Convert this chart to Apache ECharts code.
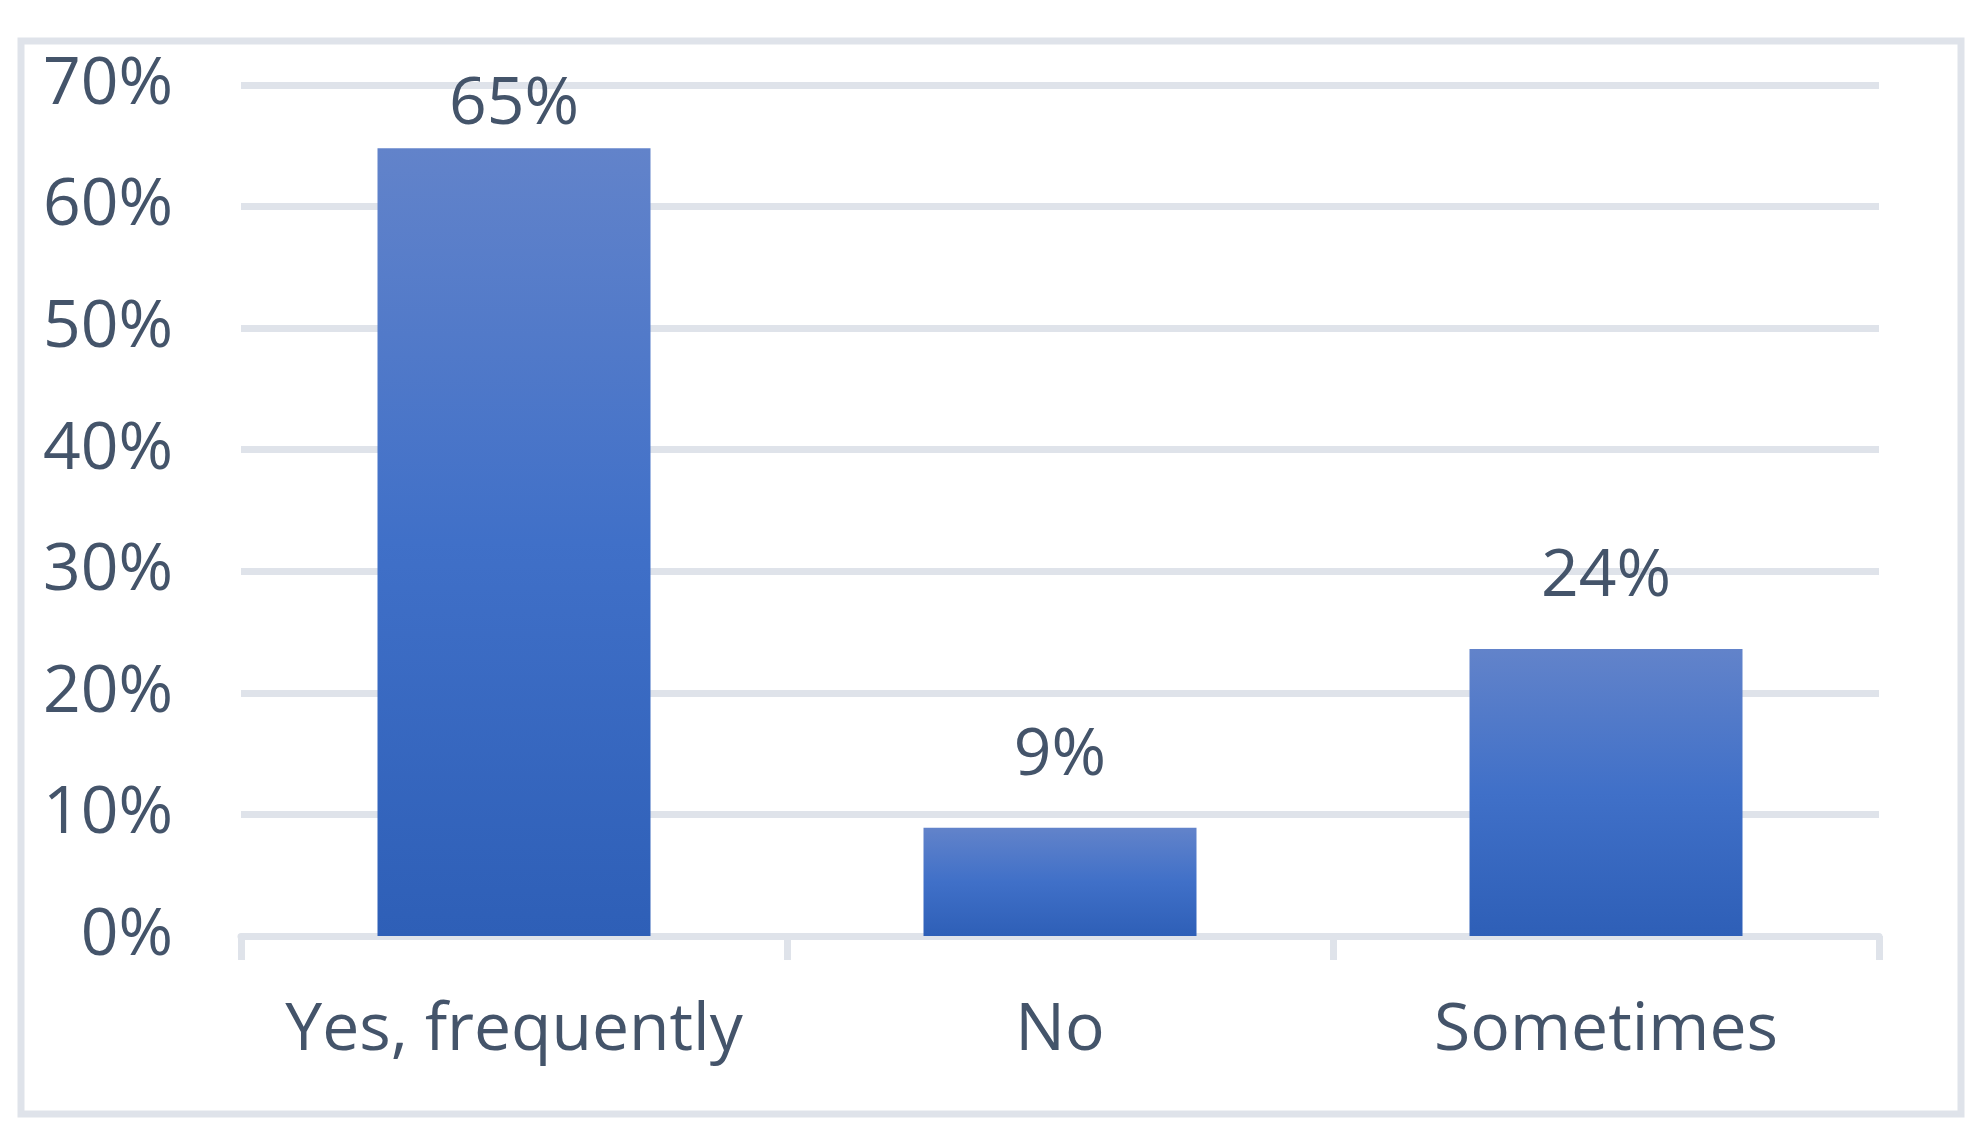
<!DOCTYPE html>
<html>
<head>
<meta charset="utf-8">
<script src="https://cdn.jsdelivr.net/npm/echarts@6/dist/echarts.min.js"></script>
<style>
  html, body { margin: 0; padding: 0; background: #fff; }
  #main { width: 1988px; height: 1148px; }
</style>
</head>
<body>
<div id="main"></div>
<script>
// values (share of answers)
const categories = ['Yes, frequently', 'No', 'Sometimes']
const values = [0.648, 0.089, 0.236]
const yTicks = [0, 0.1, 0.2, 0.3, 0.4, 0.5, 0.6, 0.7]

const textColor = '#44546a'
const lineColor = '#dfe3ea'
const font = '"Open Sans", "Noto Sans", sans-serif'

let myChart = echarts.init(document.getElementById('main'))

// the tallest label is pushed down to stay inside the plot, like the original
let barData = values.map(function (v, i) {
  return i === 0 ? { value: v, label: { distance: 10 } } : v
})

let option = {
  backgroundColor: '#fff',
  animation: false,
  graphic: [{
    type: 'rect',
    shape: { x: 21, y: 41, width: 1940, height: 1073 },
    style: { fill: 'none', stroke: lineColor, lineWidth: 7 },
    silent: true
  }],
  grid: { left: 241, right: 109, top: 85, bottom: 212 },
  xAxis: {
    type: 'category',
    data: categories,
    axisLine: { lineStyle: { color: lineColor, width: 7 } },
    axisTick: { show: true, interval: 0, length: 24, lineStyle: { color: lineColor, width: 7 } },
    axisLabel: { interval: 0, hideOverlap: false, color: textColor, fontSize: 66, fontFamily: font, margin: 62 }
  },
  yAxis: {
    type: 'value',
    min: 0,
    max: yTicks[yTicks.length - 1],
    interval: 0.1,
    axisLine: { show: false },
    axisTick: { show: false },
    splitLine: { lineStyle: { color: lineColor, width: 7 } },
    axisLabel: {
      color: textColor, fontSize: 66, fontFamily: font, margin: 68,
      formatter: function (v) { return Math.round(v * 100) + '%' }
    }
  },
  series: [{
    type: 'bar',
    data: barData,
    barWidth: '50%',
    itemStyle: {
      color: new echarts.graphic.LinearGradient(0, 0, 0, 1, [
        { offset: 0, color: '#6283ca' },
        { offset: 0.5, color: '#4070c8' },
        { offset: 1, color: '#2e5fb7' }
      ])
    },
    label: {
      show: true,
      position: 'top',
      distance: 39,
      color: textColor,
      fontSize: 66,
      fontFamily: font,
      formatter: function (p) { return Math.round(p.value * 100) + '%' }
    }
  }]
}
myChart.setOption(option)
</script>
</body>
</html>
